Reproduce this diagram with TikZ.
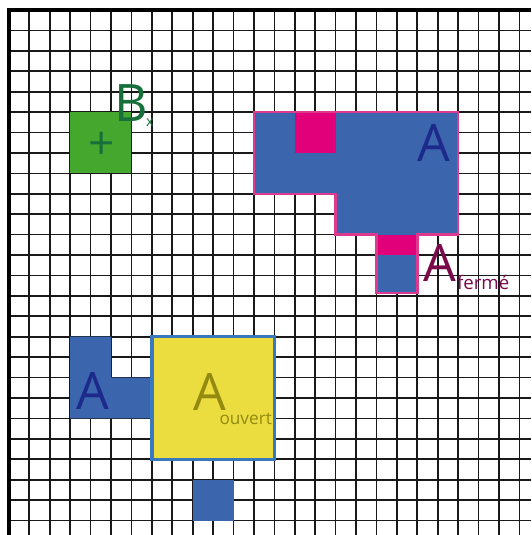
\documentclass[tikz,border=0pt]{standalone}
\usepackage{fontspec}
\setmainfont{Open Sans}
\definecolor{shblue}{HTML}{3B66AD}
\definecolor{shmag}{HTML}{E2007A}
\definecolor{shpink}{HTML}{DC3A8E}
\definecolor{shgreen}{HTML}{45A72E}
\definecolor{txgreen}{HTML}{17703A}
\definecolor{txblue}{HTML}{1D2A8C}
\definecolor{txmaroon}{HTML}{7A0A4A}
\definecolor{shyellow}{HTML}{EBDC3F}
\definecolor{edgeblue}{HTML}{3A78BD}
\definecolor{txolive}{HTML}{938A10}
\tikzset{
  gridline/.style={line width=1.2pt, black!90},
  borderline/.style={line width=2.6pt, black},
  bigletter/.style={inner sep=0pt, anchor=base, font=\fontsize{36}{36}\selectfont},
  subletter/.style={inner sep=0pt, anchor=base west},
}
\begin{document}
\begin{tikzpicture}[x=0.5cm, y=-0.5cm]
\useasboundingbox (-0.436,-0.49) rectangle (25.57,25.71);
% grid
\draw[gridline] (0,0) grid[step=0.5cm] (25.57,25.71);
\draw[borderline] (0,25.71) -- (0,0) -- (25.57,0);
% green square B
\fill[shgreen] (3,5) rectangle (6,8);
\node[inner sep=0pt, text=txgreen, font=\fontsize{32}{32}\selectfont] (plus) at (4.55,6.66) {+};
\node[bigletter, text=txgreen] (B) at (6.01,5.47) {B};
\node[subletter, text=txgreen, font=\fontsize{10}{10}\selectfont] (Bx) at (6.71,5.71) {x};
% closed set A
\fill[shblue] (12,5) -- (22,5) -- (22,11) -- (20,11) -- (20,13.85) -- (18,13.85) -- (18,11) -- (16,11) -- (16,9) -- (12,9) -- cycle;
\fill[shmag] (14,5) rectangle (16,7);
\fill[shmag] (18,11) rectangle (20,12);
\draw[shpink, line width=1.7pt] (12,5) -- (22,5) -- (22,11) -- (20,11) -- (20,13.85) -- (18,13.85) -- (18,11) -- (16,11) -- (16,9) -- (12,9) -- cycle;
\node[bigletter, text=txblue] (A1) at (20.82,7.43) {A};
\node[bigletter, text=txmaroon] (Af) at (21.11,13.3) {A};
\node[subletter, text=txmaroon, font=\fontsize{13}{13}\selectfont] (ferme) at (21.93,13.71) {fermé};
% open set A
\fill[shblue] (3,16) -- (5,16) -- (5,18) -- (7,18) -- (7,20) -- (3,20) -- cycle;
\node[bigletter, text=txblue] (A2) at (4.09,19.55) {A};
\filldraw[fill=shyellow, draw=edgeblue, line width=2.4pt] (7,16) rectangle (13,22);
\node[bigletter, text=txolive] (Ao) at (9.84,19.59) {A};
\node[subletter, text=txolive, font=\fontsize{12}{12}\selectfont] (ouvert) at (10.3,20.29) {ouvert};
% small blue square
\fill[shblue] (9,23) rectangle (11,25);
\end{tikzpicture}
\end{document}
